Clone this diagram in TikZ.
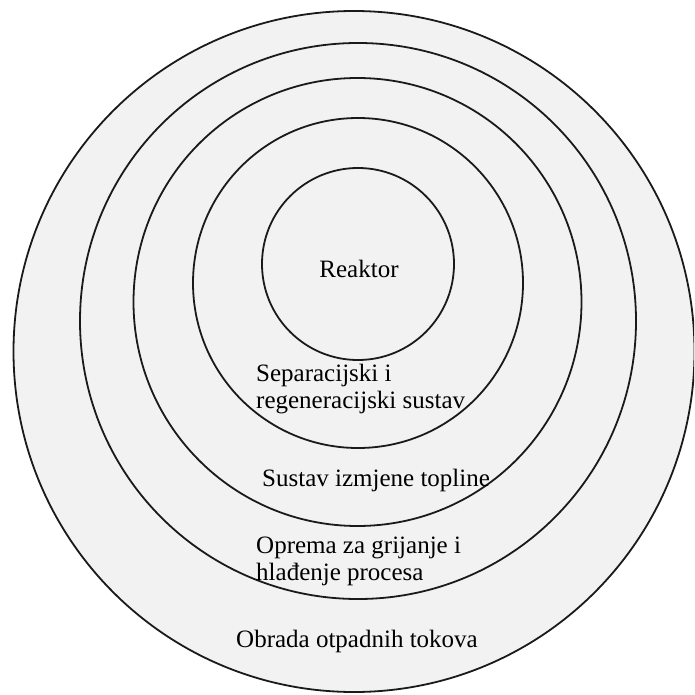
\documentclass[tikz,border=0pt]{standalone}
\usepackage{fontspec}
\setmainfont{Liberation Serif}
\definecolor{ringfill}{HTML}{F2F2F2}
\definecolor{ringline}{HTML}{1A1A1A}
\tikzset{
  ring/.style={draw=ringline, line width=1.8pt},
  lbl/.style={inner sep=0pt, anchor=base west, align=left, font=\fontsize{25}{27}\selectfont, text=black},
}
\begin{document}
\begin{tikzpicture}[x=1pt,y=-1pt]
\useasboundingbox (0,0) rectangle (694,695);
\begin{scope}
\clip (0,0) rectangle (694,695);
\fill[ringfill] (354,351.5) circle (340.5);
\draw[ring] (354,351.5) circle (340.5);
\draw[ring] (358,321) circle (278);
\draw[ring] (357.5,302) circle (224);
\draw[ring] (358,283) circle (165);
\draw[ring] (358,264) circle (96);
\end{scope}
\node[lbl, anchor=base] (reaktor) at (359,277) {Reaktor};
\node[lbl] (sep) at (256,408) {Separacijski i\\regeneracijski sustav};
\node[lbl] (izm) at (262,486) {Sustav izmjene topline};
\node[lbl] (opr) at (256,580) {Oprema za grijanje i\\hlađenje procesa};
\node[lbl] (obr) at (236,647) {Obrada otpadnih tokova};
\end{tikzpicture}
\end{document}
